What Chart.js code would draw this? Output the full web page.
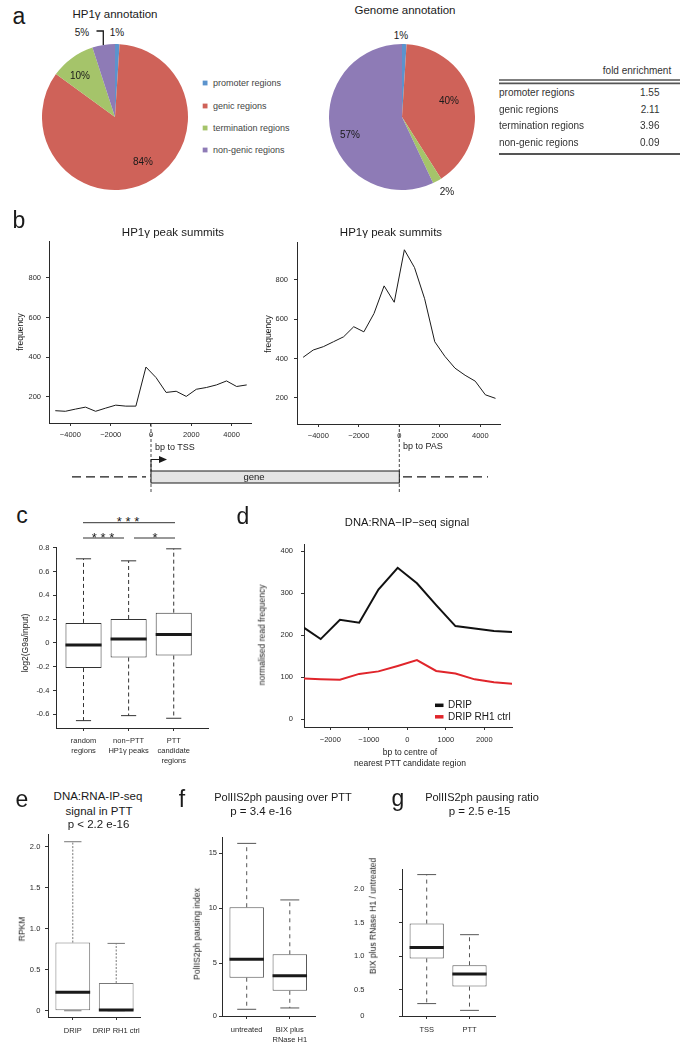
<!DOCTYPE html>
<html>
<head>
<meta charset="utf-8">
<script src="https://cdn.jsdelivr.net/npm/chart.js@4.4.1/dist/chart.umd.min.js"></script>
<style>
  body { margin: 0; background: #fff; }
  #fig { position: relative; width: 688px; height: 1047px; overflow: hidden; font-family: 'Liberation Sans', Arial, sans-serif; }
  #fig canvas { position: absolute; }
  #fig svg { position: absolute; left: 0; top: 0; }
  .txt { position: absolute; white-space: nowrap; line-height: 1; }
</style>
</head>
<body>
<div id="fig"></div>
<script>
const FONT = "'Liberation Sans', Arial, sans-serif";
Chart.defaults.font.family = FONT;

// ---- a: annotation of HP1γ peaks vs genome ----
const regionLabels = ['promoter regions', 'genic regions', 'termination regions', 'non-genic regions'];
const regionColors = ['#5b93cd', '#cf6259', '#a5c46a', '#8e7bb6'];
const hp1Share = [1, 84, 10, 5];
const genomeShare = [1, 40, 2, 57];
const foldEnrichment = ['1.55', '2.11', '3.96', '0.09'];

// ---- b: HP1γ peak summit frequency around TSS / PAS ----
const summitBins = [-4750, -4250, -3750, -3250, -2750, -2250, -1750, -1250, -750, -250, 250, 750, 1250, 1750, 2250, 2750, 3250, 3750, 4250, 4750];
const tssFreq = [130, 127, 138, 148, 127, 143, 158, 153, 153, 350, 297, 222, 228, 202, 238, 247, 260, 280, 252, 260];
const pasFreq = [406, 443, 460, 485, 510, 561, 535, 628, 768, 685, 951, 861, 703, 485, 411, 351, 315, 285, 216, 198];
const summitXTicks = [-4000, -2000, 0, 2000, 4000];
const summitXLabels = ['\u22124000', '\u22122000', '0', '2000', '4000'];
const summitYTicks = [200, 400, 600, 800];
const summitYLabels = ['200', '400', '600', '800'];

// ---- c: log2(G9a/input) boxplots ----
const g9aGroups = [['random', 'regions'], ['non\u2212PTT', 'HP1\u03b3 peaks'], ['PTT', 'candidate', 'regions']];
const g9aMin = [-0.653, -0.611, -0.633];
const g9aQ1 = [-0.211, -0.122, -0.105];
const g9aMed = [-0.016, 0.034, 0.071];
const g9aQ3 = [0.169, 0.202, 0.255];
const g9aMax = [0.708, 0.691, 0.792];
const g9aYTicks = [-0.6, -0.4, -0.2, 0, 0.2, 0.4, 0.6, 0.8];
const g9aYLabels = ['-0.6', '-0.4', '-0.2', '0', '0.2', '0.4', '0.6', '0.8'];

// ---- d: DNA:RNA-IP-seq signal ----
const dnaBins = [-2750, -2250, -1750, -1250, -750, -250, 250, 750, 1250, 1750, 2250, 2750];
const dripSignal = [222, 191, 237, 230, 309, 361, 324, 272, 222, 216, 210, 208];
const rh1Signal = [97, 95, 94, 108, 114, 127, 141, 115, 109, 95, 88, 84];
const dnaXTicks = [-2000, -1000, 0, 1000, 2000];
const dnaXLabels = ['\u22122000', '\u22121000', '0', '1000', '2000'];
const dnaYTicks = [0, 100, 200, 300, 400];
const dnaYLabels = ['0', '100', '200', '300', '400'];

// ---- e: RPKM in PTT ----
const rpkmGroups = ['DRIP', 'DRIP RH1 ctrl'];
const rpkmMin = [0, 0];
const rpkmQ1 = [0, 0];
const rpkmMed = [0.226, 0.01];
const rpkmQ3 = [0.83, 0.338];
const rpkmMax = [2.058, 0.82];
const rpkmYTicks = [0, 0.5, 1, 1.5, 2];
const rpkmYLabels = ['0', '0.5', '1.0', '1.5', '2.0'];

// ---- f: PolIIS2ph pausing index ----
const pauseGroups = ['untreated', ['BIX plus', 'RNase H1']];
const pauseMin = [0.82, 0.94];
const pauseQ1 = [3.69, 2.5];
const pauseMed = [5.36, 3.87];
const pauseQ3 = [10.1, 5.82];
const pauseMax = [15.9, 10.76];
const pauseYTicks = [5, 10, 15];
const pauseYLabels = ['0', '5', '10', '15'];

// ---- g: pausing ratio ----
const ratioGroups = ['TSS', 'PTT'];
const ratioMin = [0.295, 0.194];
const ratioQ1 = [0.97, 0.549];
const ratioMed = [1.134, 0.737];
const ratioQ3 = [1.49, 0.868];
const ratioMax = [2.221, 1.324];
const ratioYTicks = [0.5, 1, 1.5, 2];
const ratioYLabels = ['0', '0.5', '1.0', '1.5', '2.0'];

const fig = document.getElementById('fig');
const svg = [];

function text(str, x, y, size, opts = {}) {
  const d = document.createElement('div');
  d.className = 'txt';
  d.textContent = str;
  const tx = opts.align === 'left' ? '0' : opts.align === 'right' ? '-100%' : '-50%';
  d.style.left = x + 'px';
  d.style.top = y + 'px';
  d.style.fontSize = size + 'px';
  d.style.color = opts.color || '#1a1a1a';
  d.style.transform = `translate(${tx},-50%)` + (opts.rotate ? ' rotate(-90deg)' : '');
  fig.appendChild(d);
}

function seg(x1, y1, x2, y2, w = 1, dash = '', color = '#1a1a1a') {
  svg.push(`<line x1="${x1}" y1="${y1}" x2="${x2}" y2="${y2}" stroke="${color}" stroke-width="${w}"${dash ? ` stroke-dasharray="${dash}"` : ''}/>`);
}

const PAD = { l: 48, t: 8, r: 12, b: 40 };

function canvasFor(area) {
  const [x0, y0, x1, y1] = area;
  const c = document.createElement('canvas');
  c.width = x1 - x0 + PAD.l + PAD.r;
  c.height = y1 - y0 + PAD.t + PAD.b;
  c.style.left = (x0 - PAD.l) + 'px';
  c.style.top = (y0 - PAD.t) + 'px';
  fig.appendChild(c);
  return c;
}

function axis(min, max, ticks, labels, pad, horizontal) {
  return {
    type: 'linear', min, max, offset: false,
    afterBuildTicks: (s) => { s.ticks = ticks.map((value) => ({ value })); },
    afterFit: (s) => { if (horizontal) s.height = PAD.b; else s.width = PAD.l; },
    ticks: {
      autoSkip: false, maxRotation: 0, minRotation: 0, padding: pad, color: '#2a2a2a',
      font: { size: 7.5, lineHeight: 1.3 }, callback: (v, i) => labels[i]
    },
    grid: { drawOnChartArea: false, drawTicks: true, tickLength: 3, color: '#333', offset: false },
    border: { display: true, color: '#2a2a2a', width: 1 }
  };
}

function baseOptions(scales, plugins = {}) {
  return {
    responsive: false, animation: false, events: [],
    layout: { padding: scales ? { top: PAD.t, right: PAD.r, left: 0, bottom: 0 } : 0 },
    scales: scales || {},
    plugins: { legend: { display: false }, tooltip: { enabled: false }, ...plugins }
  };
}

const boxWhiskers = {
  id: 'boxWhiskers',
  afterDatasetsDraw(chart, _args, o) {
    const y = chart.scales.y;
    const ctx = chart.ctx;
    const stroke = (x1, y1, x2, y2) => { ctx.beginPath(); ctx.moveTo(x1, y1); ctx.lineTo(x2, y2); ctx.stroke(); };
    chart.getDatasetMeta(0).data.forEach((bar, i) => {
      const { x, width } = bar.getProps(['x', 'width'], true);
      const top = y.getPixelForValue(o.max[i]);
      const bottom = y.getPixelForValue(o.min[i]);
      const q3 = y.getPixelForValue(o.q3[i]);
      const q1 = y.getPixelForValue(o.q1[i]);
      const med = y.getPixelForValue(o.med[i]);
      const cap = width * o.cap / 2;
      ctx.save();
      ctx.strokeStyle = o.color;
      ctx.lineWidth = 1;
      ctx.setLineDash(o.dash);
      stroke(x, q3, x, top);
      stroke(x, q1, x, bottom);
      ctx.setLineDash([]);
      stroke(x - cap, top, x + cap, top);
      stroke(x - cap, bottom, x + cap, bottom);
      ctx.strokeStyle = '#1a1a1a';
      ctx.lineWidth = 3;
      stroke(x - width / 2, med, x + width / 2, med);
      ctx.restore();
    });
  }
};

function boxChart(area, xr, yr, stats, xLabels, yTicks, yLabels, pads, style) {
  const pos = stats.q1.map((_, i) => i + 1);
  new Chart(canvasFor(area), {
    type: 'bar',
    data: {
      datasets: [{
        data: pos.map((x, i) => ({ x, y: [stats.q1[i], stats.q3[i]] })),
        backgroundColor: '#ffffff', borderColor: style.color, borderWidth: 1,
        borderSkipped: false, barPercentage: 0.8, categoryPercentage: 1
      }]
    },
    options: baseOptions({
      x: axis(xr[0], xr[1], pos, xLabels, pads[0], true),
      y: axis(yr[0], yr[1], yTicks, yLabels, pads[1], false)
    }, { boxWhiskers: { ...stats, color: style.color, dash: style.dash, cap: style.cap } }),
    plugins: [boxWhiskers]
  });
}

function lineChart(area, xr, yr, series, xTicks, xLabels, yTicks, yLabels, pads) {
  new Chart(canvasFor(area), {
    type: 'line',
    data: {
      datasets: series.map((s) => ({
        data: s.x.map((x, i) => ({ x, y: s.y[i] })),
        borderColor: s.color, borderWidth: s.width, pointRadius: 0, tension: 0, fill: false
      }))
    },
    options: baseOptions({
      x: axis(xr[0], xr[1], xTicks, xLabels, pads[0], true),
      y: axis(yr[0], yr[1], yTicks, yLabels, pads[1], false)
    })
  });
}

function pieChart(cx, cy, r, shares) {
  const c = document.createElement('canvas');
  c.width = c.height = 2 * r;
  c.style.left = (cx - r) + 'px';
  c.style.top = (cy - r) + 'px';
  fig.appendChild(c);
  new Chart(c, {
    type: 'pie',
    data: { labels: regionLabels, datasets: [{ data: shares, backgroundColor: regionColors, borderWidth: 0 }] },
    options: baseOptions(null)
  });
}

// ---------- panel a ----------
pieChart(115, 117, 73, hp1Share);
pieChart(402, 117, 73, genomeShare);
text('a', 19, 16, 23);
text('HP1\u03b3 annotation', 115, 15, 11.5);
text('Genome annotation', 405, 11, 11.5);
text('5%', 82, 33, 10);
text('1%', 117, 33, 10);
text('10%', 80, 76, 10);
text('84%', 143, 162, 10);
text('1%', 401, 36, 10);
text('40%', 449, 101, 10);
text('57%', 350, 135, 10);
text('2%', 447, 192, 10);
svg.push('<polyline points="96.5,31 103.3,31 103.3,45" fill="none" stroke="#1a1a1a" stroke-width="1.3"/>');
[83, 106, 128, 150].forEach((y, i) => {
  svg.push(`<rect x="202.7" y="${y - 2.4}" width="4.8" height="4.8" fill="${regionColors[i]}"/>`);
  text(regionLabels[i], 213, y, 9, { align: 'left', color: '#444' });
});
// fold enrichment table
text('fold enrichment', 637, 70.5, 10, { color: '#333' });
seg(499, 80, 680, 80, 1.6, '', '#555');
seg(499, 83.4, 680, 83.4, 1.6, '', '#555');
[93, 109.5, 126, 143].forEach((y, i) => {
  text(regionLabels[i], 499, y, 10, { align: 'left', color: '#333' });
  text(foldEnrichment[i], 659.5, y, 10, { align: 'right', color: '#333' });
});
seg(499, 154, 680, 154, 2.2, '', '#555');

// ---------- panel b ----------
lineChart([49, 240, 251, 423], [-5062, 4963], [68, 981],
  [{ x: summitBins, y: tssFreq, color: '#1a1a1a', width: 1 }],
  summitXTicks, summitXLabels, summitYTicks, summitYLabels, [4.5, 5]);
lineChart([297, 240, 500, 424], [-5052, 4973], [68, 986],
  [{ x: summitBins, y: pasFreq, color: '#1a1a1a', width: 1 }],
  summitXTicks, summitXLabels, summitYTicks, summitYLabels, [4.5, 6]);
text('b', 19, 219.5, 23);
text('HP1\u03b3 peak summits', 173, 233, 11.5);
text('HP1\u03b3 peak summits', 391, 233, 11.5);
text('frequency', 20, 332, 8.5, { rotate: true });
text('frequency', 267.5, 334, 8.5, { rotate: true });
text('bp to TSS', 155, 447, 9, { align: 'left' });
text('bp to PAS', 403, 446, 9, { align: 'left' });
// gene model below the profiles
seg(151, 424, 151, 494, 0.9, '3 2', '#333');
seg(399.3, 424, 399.3, 494, 0.9, '3 2', '#333');
seg(72, 476.8, 146, 476.8, 1.3, '9 5');
seg(403, 476.8, 488, 476.8, 1.3, '9 5');
svg.push('<rect x="151" y="471" width="248.3" height="12" fill="#e4e4e4" stroke="#1a1a1a" stroke-width="1"/>');
svg.push('<polyline points="151,471 151,459.5 160,459.5" fill="none" stroke="#1a1a1a" stroke-width="1"/>');
svg.push('<polygon points="159,456 167,459.5 159,463" fill="#1a1a1a"/>');
text('gene', 254, 477, 9.5);

// ---------- panel c ----------
boxChart([56, 547, 208, 728], [0.39, 3.76], [-0.715, 0.8025],
  { min: g9aMin, q1: g9aQ1, med: g9aMed, q3: g9aQ3, max: g9aMax },
  g9aGroups, g9aYTicks, g9aYLabels, [5.5, 3.7], { color: '#333', dash: [4, 3], cap: 0.42 });
text('c', 22, 515, 23);
text('log2(G9a/input)', 25, 643, 8.5, { rotate: true });
seg(83, 522.7, 175, 522.7, 1, '', '#333');
seg(83, 538, 124, 538, 1, '', '#333');
seg(134, 538, 175, 538, 1, '', '#333');
text('* * *', 128, 521, 13);
text('* * *', 103, 536.5, 13);
text('*', 155, 536.5, 13);

// ---------- panel d ----------
lineChart([304, 540, 512, 727], [-2683, 2719], [-18.6, 415.6],
  [{ x: dnaBins, y: dripSignal, color: '#111', width: 2 },
   { x: dnaBins, y: rh1Signal, color: '#e0252b', width: 2 }],
  dnaXTicks, dnaXLabels, dnaYTicks, dnaYLabels, [5, 8]);
text('d', 243, 515.5, 23);
text('DNA:RNA\u2212IP\u2212seq signal', 407, 523, 11.2);
text('normalised read frequency', 262, 635, 8.5, { rotate: true });
text('bp to centre of', 410, 751.7, 8.5);
text('nearest PTT candidate region', 410, 762.7, 8.5);
seg(435, 705.3, 443.5, 705.3, 3.5, '', '#111');
seg(435, 716.8, 443.5, 716.8, 3.5, '', '#e0252b');
text('DRIP', 448, 705, 10, { align: 'left' });
text('DRIP RH1 ctrl', 448, 716.5, 10, { align: 'left' });

// ---------- panel e ----------
boxChart([48, 833, 140, 1017], [0.429, 2.548], [-0.076, 2.145],
  { min: rpkmMin, q1: rpkmQ1, med: rpkmMed, q3: rpkmQ3, max: rpkmMax },
  rpkmGroups, rpkmYTicks, rpkmYLabels, [6, 4.7], { color: '#777', dash: [2, 1.5], cap: 0.5 });
text('e', 22, 799, 23);
text('DNA:RNA-IP-seq', 98, 797, 11.5);
text('signal in PTT', 99, 811.5, 11.5);
text('p < 2.2 e-16', 98.5, 825, 11.5);
text('RPKM', 22.3, 929, 8.5, { rotate: true });

// ---------- panel f ----------
boxChart([222, 837, 315, 1016], [0.427, 2.585], [0.21, 16.48],
  { min: pauseMin, q1: pauseQ1, med: pauseMed, q3: pauseQ3, max: pauseMax },
  pauseGroups, [0.21, ...pauseYTicks], pauseYLabels, [6, 2], { color: '#555', dash: [4, 4], cap: 0.55 });
text('f', 182, 799, 23);
text('PolIIS2ph pausing over PTT', 283, 797, 11);
text('p = 3.4 e-16', 261, 811.5, 11.5);
text('PolIIS2ph pausing index', 197, 934, 8.5, { rotate: true });

// ---------- panel g ----------
boxChart([402, 838, 495, 1016], [0.423, 2.596], [0.11, 2.299],
  { min: ratioMin, q1: ratioQ1, med: ratioMed, q3: ratioQ3, max: ratioMax },
  ratioGroups, [0.11, ...ratioYTicks], ratioYLabels, [6, 34.5], { color: '#555', dash: [4, 4], cap: 0.55 });
text('g', 398, 798, 23);
text('PolIIS2ph pausing ratio', 482, 797, 11);
text('p = 2.5 e-15', 479.5, 811.5, 11.5);
text('BIX plus RNase H1 / untreated', 373.3, 915.5, 8.5, { rotate: true });

const s = document.createElementNS('http://www.w3.org/2000/svg', 'svg');
s.setAttribute('width', '688');
s.setAttribute('height', '1047');
s.innerHTML = svg.join('');
fig.insertBefore(s, fig.firstChild);
</script>
</body>
</html>
